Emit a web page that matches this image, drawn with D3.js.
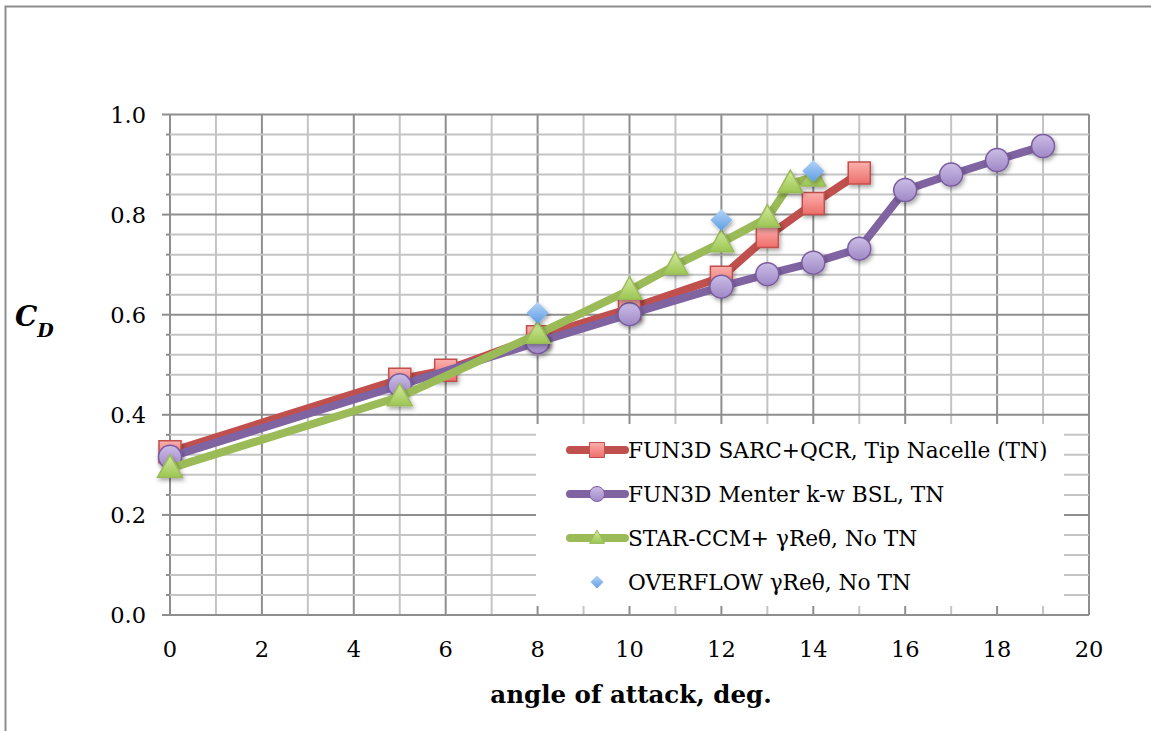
<!DOCTYPE html>
<html>
<head>
<meta charset="utf-8">
<script src="https://cdn.jsdelivr.net/npm/d3@7"></script>
<style>
  body { margin: 0; background: #fff; }
  svg { display: block; }
  text { font-family: "DejaVu Serif", serif; fill: #000; }
</style>
</head>
<body>
<script>
(function(){

    //chart values
    var aoaRed = [0, 5, 6, 8, 10, 12, 13, 14, 15];
    var cdRed = [0.326, 0.471, 0.489, 0.556, 0.612, 0.675, 0.756, 0.822, 0.883];

    var aoaPurple = [0, 5, 8, 10, 12, 13, 14, 15, 16, 17, 18, 19];
    var cdPurple = [0.316, 0.459, 0.545, 0.601, 0.656, 0.681, 0.704, 0.732, 0.849, 0.880, 0.909, 0.937];

    var aoaGreen = [0, 5, 8, 10, 11, 12, 13, 13.5, 14];
    var cdGreen = [0.293, 0.436, 0.561, 0.649, 0.699, 0.744, 0.793, 0.862, 0.875];

    var aoaBlue = [8, 12, 14];
    var cdBlue = [0.604, 0.789, 0.887];

    var seriesNames = [
        "FUN3D SARC+QCR, Tip Nacelle (TN)",
        "FUN3D Menter k-w BSL, TN",
        "STAR-CCM+ \u03b3Re\u03b8, No TN",
        "OVERFLOW \u03b3Re\u03b8, No TN"
    ];

    var xTicks = [0, 2, 4, 6, 8, 10, 12, 14, 16, 18, 20];
    var yTicks = [0, 0.2, 0.4, 0.6, 0.8, 1.0];

    var width = 1151, height = 731;

    var svg = d3.select("body")
        .append("svg")
        .attr("width", width)
        .attr("height", height);

    //outer chart frame
    svg.append("rect")
        .attr("x", 5.5)
        .attr("y", 6.5)
        .attr("width", 1200)
        .attr("height", 800)
        .attr("fill", "#fff")
        .attr("stroke", "#8c8c8c")
        .attr("stroke-width", 2);

    var x = d3.scaleLinear().domain([0, 20]).range([170, 1089]);
    var y = d3.scaleLinear().domain([0, 1]).range([615, 114.5]);

    var defs = svg.append("defs");

    //marker gradients
    function grad(id, top, bottom){
        var g = defs.append("linearGradient")
            .attr("id", id)
            .attr("x1", 0).attr("y1", 0)
            .attr("x2", 0).attr("y2", 1);
        g.append("stop").attr("offset", "0%").attr("stop-color", top);
        g.append("stop").attr("offset", "100%").attr("stop-color", bottom);
    }
    grad("gRed", "#fbb0ad", "#ee6e6a");
    grad("gPurple", "#cbbde6", "#9f88c6");
    grad("gGreen", "#d4ea9f", "#9cc653");
    grad("gBlue", "#b4d4f7", "#5e9de4");

    var shadow = defs.append("filter")
        .attr("id", "shadow")
        .attr("x", "-50%").attr("y", "-50%")
        .attr("width", "200%").attr("height", "200%");
    shadow.append("feDropShadow")
        .attr("dx", 1.5).attr("dy", 2.5)
        .attr("stdDeviation", 2)
        .attr("flood-color", "#000")
        .attr("flood-opacity", 0.35);

    //grid lines
    var grid = svg.append("g");
    d3.range(0, 21, 1).forEach(function(v){
        grid.append("line")
            .attr("x1", x(v)).attr("x2", x(v))
            .attr("y1", y(0)).attr("y2", y(1))
            .attr("stroke", v % 2 === 0 ? "#8e8e8e" : "#c4c4c4")
            .attr("stroke-width", 2);
    });
    d3.range(0, 26, 1).forEach(function(i){
        var v = i * 0.04;
        grid.append("line")
            .attr("x1", x(0)).attr("x2", x(20))
            .attr("y1", y(v)).attr("y2", y(v))
            .attr("stroke", i % 5 === 0 ? "#8e8e8e" : "#c4c4c4")
            .attr("stroke-width", 2);
    });

    //tick marks on the y axis
    d3.range(0, 26, 1).forEach(function(i){
        var v = i * 0.04;
        grid.append("line")
            .attr("x1", x(0) - (i % 5 === 0 ? 8 : 4)).attr("x2", x(0))
            .attr("y1", y(v)).attr("y2", y(v))
            .attr("stroke", "#8e8e8e")
            .attr("stroke-width", 2);
    });

    //axis labels
    svg.append("g").selectAll("text")
        .data(yTicks)
        .enter()
        .append("text")
        .attr("x", 146)
        .attr("y", function(d){ return y(d) + 8; })
        .attr("text-anchor", "end")
        .style("font-size", "22.5px")
        .text(function(d){ return d3.format(".1f")(d); });

    svg.append("g").selectAll("text")
        .data(xTicks)
        .enter()
        .append("text")
        .attr("x", function(d){ return x(d); })
        .attr("y", 657)
        .attr("text-anchor", "middle")
        .style("font-size", "22.5px")
        .text(function(d){ return d; });

    svg.append("text")
        .attr("x", 631)
        .attr("y", 703)
        .attr("text-anchor", "middle")
        .style("font-size", "24.5px")
        .style("font-weight", "bold")
        .text("angle of attack, deg.");

    var cd = svg.append("text")
        .attr("x", 15)
        .attr("y", 326)
        .style("font-weight", "bold")
        .style("font-style", "italic");
    cd.append("tspan").style("font-size", "28px").text("C");
    cd.append("tspan").attr("dy", 11).style("font-size", "19px").text("D");

    //marker shapes
    var shapes = {
        square: function(s){ return "M" + (-s/2) + "," + (-s/2) + "h" + s + "v" + s + "h" + (-s) + "Z"; },
        circle: function(s){ return d3.symbol(d3.symbolCircle, Math.PI * s * s / 4)(); },
        triangle: function(s){ var h = s * 0.9; return "M0," + (-h * 0.6) + "L" + (s/2) + "," + (h * 0.4) + "L" + (-s/2) + "," + (h * 0.4) + "Z"; },
        diamond: function(s){ return "M0," + (-s/2) + "L" + (s/2) + ",0L0," + (s/2) + "L" + (-s/2) + ",0Z"; }
    };

    var series = [
        {xs: aoaRed, ys: cdRed, line: "#c0504d", fill: "url(#gRed)", stroke: "#c0504d", shape: "square", size: 22},
        {xs: aoaPurple, ys: cdPurple, line: "#8064a2", fill: "url(#gPurple)", stroke: "#7a5c9e", shape: "circle", size: 23},
        {xs: aoaGreen, ys: cdGreen, line: "#9bbb59", fill: "url(#gGreen)", stroke: "#9bbb59", shape: "triangle", size: 25},
        {xs: aoaBlue, ys: cdBlue, line: null, fill: "url(#gBlue)", stroke: "none", shape: "diamond", size: 22}
    ];

    var lineGen = d3.line()
        .x(function(d){ return x(d[0]); })
        .y(function(d){ return y(d[1]); });

    series.forEach(function(s){
        var pts = s.xs.map(function(v, i){ return [v, s.ys[i]]; });
        var g = svg.append("g");
        if (s.line){
            g.append("path")
                .datum(pts)
                .attr("d", lineGen)
                .attr("fill", "none")
                .attr("stroke", s.line)
                .attr("stroke-width", 8)
                .attr("stroke-linejoin", "round")
                .attr("stroke-linecap", "round");
        }
        g.selectAll(".marker")
            .data(pts)
            .enter()
            .append("path")
            .attr("class", "marker")
            .attr("transform", function(d){ return "translate(" + x(d[0]) + "," + y(d[1]) + ")"; })
            .attr("d", shapes[s.shape](s.size))
            .attr("fill", s.fill)
            .attr("stroke", s.stroke)
            .attr("stroke-width", 1.5)
            .attr("filter", "url(#shadow)");
    });

    //legend
    var legend = svg.append("g");
    legend.append("rect")
        .attr("x", 536)
        .attr("y", 424)
        .attr("width", 528)
        .attr("height", 182)
        .attr("fill", "#fff");

    var rowY = [450, 494, 538, 582];
    series.forEach(function(s, i){
        var row = legend.append("g").attr("transform", "translate(0," + rowY[i] + ")");
        if (s.line){
            row.append("line")
                .attr("x1", 570).attr("x2", 625)
                .attr("stroke", s.line)
                .attr("stroke-width", 8)
                .attr("stroke-linecap", "round");
        }
        row.append("path")
            .attr("transform", "translate(597,0)")
            .attr("d", shapes[s.shape](s.shape === "diamond" ? 13 : 15))
            .attr("fill", s.fill)
            .attr("stroke", s.stroke)
            .attr("stroke-width", 1);
        row.append("text")
            .attr("x", 628)
            .attr("y", 8)
            .style("font-size", "21.7px")
            .text(seriesNames[i]);
    });

})();
</script>
</body>
</html>
